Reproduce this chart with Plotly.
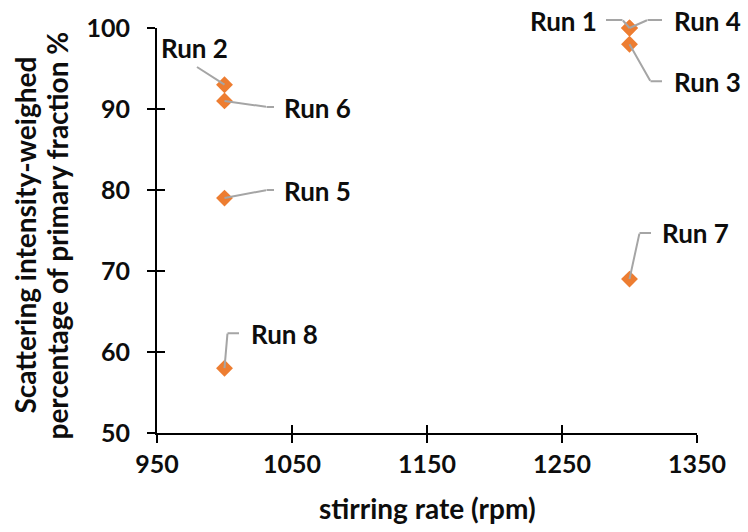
import plotly.graph_objects as go

# ---- data ----
runs = ["Run 1", "Run 2", "Run 3", "Run 4", "Run 5", "Run 6", "Run 7", "Run 8"]
stirring_rate = [1300, 1000, 1300, 1300, 1000, 1000, 1300, 1000]
primary_pct = [100, 93, 98, 100, 79, 91, 69, 58]

x_ticks = [950, 1050, 1150, 1250, 1350]
y_ticks = [50, 60, 70, 80, 90, 100]

x_title = "stirring rate (rpm)"
y_title_lines = ["Scattering intensity-weighed", "percentage of primary fraction %"]

# ---- label placement (screen pixel offsets from marker, y downwards) ----
# leader path points, text anchor point, text xanchor
label_style = {
    "Run 1": ([(0, 0), (-7, -8), (-24, -8)], (-31, -7), "right"),
    "Run 2": ([(0, 0), (-28, -18)], (-30, -37), "center"),
    "Run 3": ([(0, 0), (21, 37), (33, 37)], (42, 38), "left"),
    "Run 4": ([(0, 0), (18, -8), (33, -8)], (42, -7), "left"),
    "Run 5": ([(0, 0), (42, -8), (50, -8)], (57, -7), "left"),
    "Run 6": ([(0, 0), (42, 6), (50, 6)], (57, 7), "left"),
    "Run 7": ([(0, 0), (10, -46), (22, -46)], (30, -46), "left"),
    "Run 8": ([(0, 0), (3, -35), (15, -35)], (24, -34), "left"),
}

FONT = "Lato"
ORANGE = "#ED7D31"
GREY = "#A5A5A5"
TXT = "#0d0d0d"

fig = go.Figure()
fig.add_trace(go.Scatter(
    x=stirring_rate, y=primary_pct, mode="markers",
    marker=dict(symbol="diamond", size=13, color=ORANGE),
    cliponaxis=False, hoverinfo="x+y", showlegend=False,
))
# invisible trace to activate the overlay axes (inside ticks)
fig.add_trace(go.Scatter(
    x=stirring_rate, y=primary_pct, mode="markers", xaxis="x2", yaxis="y2",
    marker=dict(opacity=0), hoverinfo="skip", showlegend=False,
))

annotations = []
for name, xv, yv in zip(runs, stirring_rate, primary_pct):
    pts, (tx, ty), anchor = label_style[name]
    # leader line segments drawn as head-less arrows
    for (x0, y0), (x1, y1) in zip(pts[:-1], pts[1:]):
        annotations.append(dict(
            x=xv, y=yv, xref="x", yref="y", text="", showarrow=True,
            xshift=x0, yshift=-y0, ax=x1 - x0, ay=y1 - y0,
            arrowhead=0, arrowwidth=2, arrowcolor=GREY,
            standoff=0, startstandoff=0, borderpad=0,
            font=dict(size=1),
        ))
    annotations.append(dict(
        x=xv, y=yv, xref="x", yref="y", text=name, showarrow=False,
        xanchor=anchor, yanchor="middle", xshift=tx, yshift=-ty,
        font=dict(family=FONT, size=26, color=TXT, weight="bold"),
    ))

# axis titles
annotations.append(dict(
    x=0.5, y=0, xref="paper", yref="paper", yshift=-75,
    text=x_title, showarrow=False, xanchor="center", yanchor="middle",
    font=dict(family=FONT, size=28, color=TXT, weight="bold"),
))
for line, xs in zip(y_title_lines, [-133, -101]):
    annotations.append(dict(
        x=0, y=0.5, xref="paper", yref="paper", xshift=xs, yshift=-5,
        text=line, showarrow=False, textangle=-90,
        xanchor="center", yanchor="middle",
        font=dict(family=FONT, size=28, color=TXT, weight="bold"),
    ))

axis_common = dict(showgrid=False, zeroline=False, showline=True,
                   linecolor="black", linewidth=2, tickcolor="black",
                   tickwidth=2, ticklen=8, automargin=False)
tick_font = dict(family=FONT, size=25, color=TXT, weight="bold")

fig.update_layout(
    width=748, height=532,
    margin=dict(l=157, r=51, t=28, b=99),
    plot_bgcolor="white", paper_bgcolor="white",
    showlegend=False,
    xaxis=dict(range=[950, 1350], tickvals=x_ticks, ticks="outside",
               tickfont=tick_font, **axis_common),
    yaxis=dict(range=[50, 100], tickvals=y_ticks, ticks="outside",
               tickfont=tick_font, ticklabelstandoff=12, **axis_common),
    xaxis2=dict(range=[950, 1350], tickvals=x_ticks, ticks="inside",
                overlaying="x", side="bottom", showticklabels=False,
                anchor="y2", **axis_common),
    yaxis2=dict(range=[50, 100], tickvals=y_ticks, ticks="inside",
                overlaying="y", side="left", showticklabels=False,
                anchor="x2", **axis_common),
    annotations=annotations,
)

fig.write_html("out.html", config={"displayModeBar": False},
               post_script="document.body.style.margin='0';")
